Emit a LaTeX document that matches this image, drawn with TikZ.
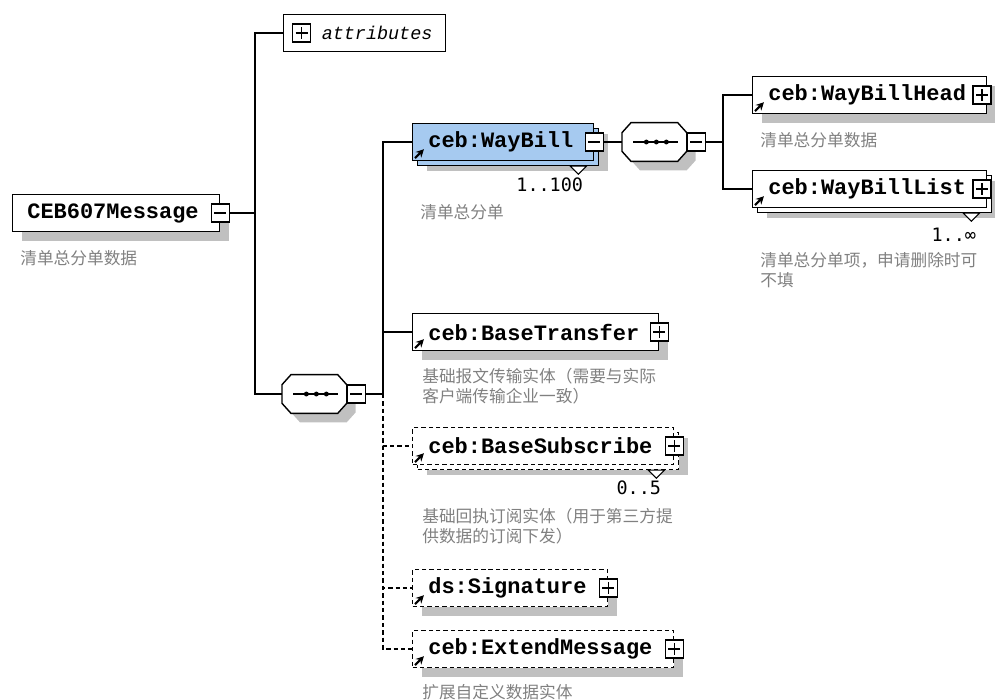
\documentclass[tikz,border=0pt]{standalone}
\usepackage{fontspec}
\setmonofont{Liberation Mono}
\setsansfont{Liberation Sans}
\newfontfamily\cjk{Noto Sans CJK SC}
\newfontfamily\cardfont{DejaVu Sans Mono}
\usetikzlibrary{positioning,shadows,arrows.meta}

\newlength\pxu
\setlength\pxu{0.02cm}
\definecolor{selblue}{RGB}{166,202,240}
\definecolor{shadegray}{RGB}{192,192,192}
\definecolor{descgray}{RGB}{128,128,128}

\tikzset{
  elem/.style={draw, fill=white, line width=0.8pt, anchor=west, inner sep=0pt,
    minimum width=#1*\pxu, minimum height=37*\pxu},
  single/.style={drop shadow={shadow xshift=0.18cm, shadow yshift=-0.18cm,
    fill=shadegray, opacity=1}},
  stacked/.style={drop shadow={shadow xshift=0.28cm, shadow yshift=-0.2cm,
    fill=shadegray, opacity=1},
    copy shadow={shadow xshift=0.1cm, shadow yshift=-0.1cm, draw, fill=#1}},
  optbox/.style={dash pattern=on 2.5pt off 1.7pt},
  tag/.style={font=\ttfamily\bfseries\fontsize{12.5}{14}\selectfont, inner sep=0pt},
  desc/.style={text=descgray, font=\cjk\fontsize{9.5}{11.3}\selectfont,
    align=left, anchor=north west, inner sep=0pt},
  card/.style={font=\cardfont\fontsize{10.5}{12}\selectfont, anchor=east, inner sep=0pt},
  minus/.style={draw, fill=white, line width=0.8pt, minimum size=18*\pxu, inner sep=0pt,
    path picture={
      \draw[line width=0.8pt] ([shift={(3,0)}]path picture bounding box.west)
        -- ([shift={(-3,0)}]path picture bounding box.east);}},
  plus/.style={draw, fill=white, line width=0.8pt, minimum size=18*\pxu, inner sep=0pt,
    path picture={
      \draw[line width=0.8pt] ([shift={(3,0)}]path picture bounding box.west)
        -- ([shift={(-3,0)}]path picture bounding box.east);
      \draw[line width=0.8pt] ([shift={(0,3)}]path picture bounding box.north)
        -- ([shift={(0,-3)}]path picture bounding box.south);}},
  seq/.style={anchor=west, inner sep=0pt, minimum width=64*\pxu, minimum height=38*\pxu},
  octo/.style={draw, fill=white, line width=0.8pt, single},
  link/.style={line width=0.8pt},
  optlink/.style={link, dash pattern=on 2.5pt off 1.7pt},
  icon/.style={line width=1.2pt, -{Stealth[length=4.5pt,width=4.5pt]}},
  many/.style={line width=0.6pt, fill=white}
}

% octagon of a sequence compositor, drawn round its node
\newcommand\seqshape[1]{%
  \draw[octo] ([shift={(9,0)}]#1.north west) -- ([shift={(-9,0)}]#1.north east)
    -- ([shift={(0,10)}]#1.north east) -- ([shift={(0,-10)}]#1.south east)
    -- ([shift={(-9,0)}]#1.south east) -- ([shift={(9,0)}]#1.south west)
    -- ([shift={(0,-10)}]#1.south west) -- ([shift={(0,10)}]#1.north west) -- cycle;
  \draw[link] ([shift={(11,0)}]#1.west) -- ([shift={(-9,0)}]#1.east);
  \fill[black] ([shift={(-8,0)}]#1.center) circle (1.4pt);
  \fill[black] ([shift={(2,0)}]#1.center) circle (1.4pt);
  \fill[black] ([shift={(12,0)}]#1.center) circle (1.4pt);}

\begin{document}
\begin{tikzpicture}[x=0.02cm, y=-0.02cm]
  \useasboundingbox (0,0) rectangle (995,700);

  % root
  \node[elem=207, single] (root) at (12,213) {};
  \node[tag, right=0.3cm of root.west] (root-t) {CEB607Message};
  \node[minus] (root-m) at (root.east) {};
  \node[desc] (root-d) at ([shift={(8,18)}]root.south west) {清单总分单数据};

  % attributes
  \node[elem=162] (attr) at (283,33) {};
  \node[plus, right=0.18cm of attr.west] (attr-p) {};
  \node[font=\ttfamily\itshape\fontsize{10.5}{12}\selectfont, inner sep=0pt,
    right=0.2cm of attr-p] (attr-t) {attributes};

  % outer sequence
  \node[seq] (seqA) at (282,394) {};
  \seqshape{seqA}
  \node[minus, right=0pt of seqA] (seqA-m) {};

  % WayBill
  \node[elem=181, fill=selblue, stacked=selblue] (waybill) at (412,142) {};
  \node[tag, right=0.32cm of waybill.west] (waybill-t) {ceb:WayBill};
  \node[minus] (waybill-m) at (waybill.east) {};
  \node[card] (waybill-c) at ([shift={(-11,24)}]waybill.south east) {1..100};
  \node[desc] (waybill-d) at ([shift={(8,43)}]waybill.south west) {清单总分单};

  % inner sequence
  \node[seq] (seqB) at (622,142) {};
  \seqshape{seqB}
  \node[minus, right=0pt of seqB] (seqB-m) {};

  % WayBillHead
  \node[elem=234, single] (head) at (752,95) {};
  \node[tag, right=0.32cm of head.west] (head-t) {ceb:WayBillHead};
  \node[plus] (head-p) at ([xshift=-3]head.east) {};
  \node[desc] (head-d) at ([shift={(8,18)}]head.south west) {清单总分单数据};

  % WayBillList
  \node[elem=234, stacked=white] (list) at (752,189) {};
  \node[tag, right=0.32cm of list.west] (list-t) {ceb:WayBillList};
  \node[plus] (list-p) at ([xshift=-3]list.east) {};
  \node[card] (list-c) at ([shift={(-11,27)}]list.south east) {1..∞};
  \node[desc] (list-d) at ([shift={(8,44)}]list.south west) {清单总分单项，申请删除时可\\不填};

  % BaseTransfer
  \node[elem=246, single] (transfer) at (412,332) {};
  \node[tag, right=0.32cm of transfer.west] (transfer-t) {ceb:BaseTransfer};
  \node[plus] (transfer-p) at (transfer.east) {};
  \node[desc] (transfer-d) at ([shift={(10,17)}]transfer.south west)
    {基础报文传输实体（需要与实际\\客户端传输企业一致）};

  % BaseSubscribe
  \node[elem=261, optbox, stacked=white] (subscribe) at (412,446) {};
  \node[tag, right=0.32cm of subscribe.west] (subscribe-t) {ceb:BaseSubscribe};
  \node[plus] (subscribe-p) at (subscribe.east) {};
  \node[card] (subscribe-c) at ([shift={(-13,23)}]subscribe.south east) {0..5};
  \node[desc] (subscribe-d) at ([shift={(10,43)}]subscribe.south west)
    {基础回执订阅实体（用于第三方提\\供数据的订阅下发）};

  % Signature
  \node[elem=195, optbox, single] (signature) at (412,588) {};
  \node[tag, right=0.32cm of signature.west] (signature-t) {ds:Signature};
  \node[plus] (signature-p) at (signature.east) {};

  % ExtendMessage
  \node[elem=261, optbox, single] (extend) at (412,649) {};
  \node[tag, right=0.32cm of extend.west] (extend-t) {ceb:ExtendMessage};
  \node[plus] (extend-p) at (extend.east) {};
  \node[desc] (extend-d) at ([shift={(10,16)}]extend.south west) {扩展自定义数据实体};

  % connectors
  \coordinate (jroot) at (255,213);
  \coordinate (jseqA) at (383,394);
  \coordinate (jseqB) at (723,142);
  \draw[link] (root-m.east) -- (jroot);
  \draw[link] (jroot) |- (attr.west);
  \draw[link] (jroot) |- (seqA.west);
  \draw[link] (seqA-m.east) -- (jseqA);
  \draw[link] (jseqA) |- (waybill.west);
  \draw[link] (jseqA) |- (transfer.west);
  \draw[optlink] (jseqA) |- (subscribe.west);
  \draw[optlink] (jseqA) |- (signature.west);
  \draw[optlink] (jseqA) |- (extend.west);
  \draw[link] (waybill-m.east) -- (seqB.west);
  \draw[link] (seqB-m.east) -- (jseqB);
  \draw[link] (jseqB) |- (head.west);
  \draw[link] (jseqB) |- (list.west);

  % reference arrows
  \draw[icon] ([shift={(3,-3)}]waybill.south west) -- ++(9,-9);
  \draw[icon] ([shift={(3,-3)}]head.south west) -- ++(9,-9);
  \draw[icon] ([shift={(3,-3)}]list.south west) -- ++(9,-9);
  \draw[icon] ([shift={(3,-3)}]transfer.south west) -- ++(9,-9);
  \draw[icon] ([shift={(3,-3)}]subscribe.south west) -- ++(9,-9);
  \draw[icon] ([shift={(3,-3)}]signature.south west) -- ++(9,-9);
  \draw[icon] ([shift={(3,-3)}]extend.south west) -- ++(9,-9);

  % repeat marks
  \draw[many] ([shift={(-24,5)}]waybill.south east) -- ++(16,0) -- ++(-8,8) -- cycle;
  \draw[many] ([shift={(-24,5)}]list.south east) -- ++(16,0) -- ++(-8,8) -- cycle;
  \draw[many] ([shift={(-26,5)}]subscribe.south east) -- ++(16,0) -- ++(-8,8) -- cycle;
\end{tikzpicture}
\end{document}
